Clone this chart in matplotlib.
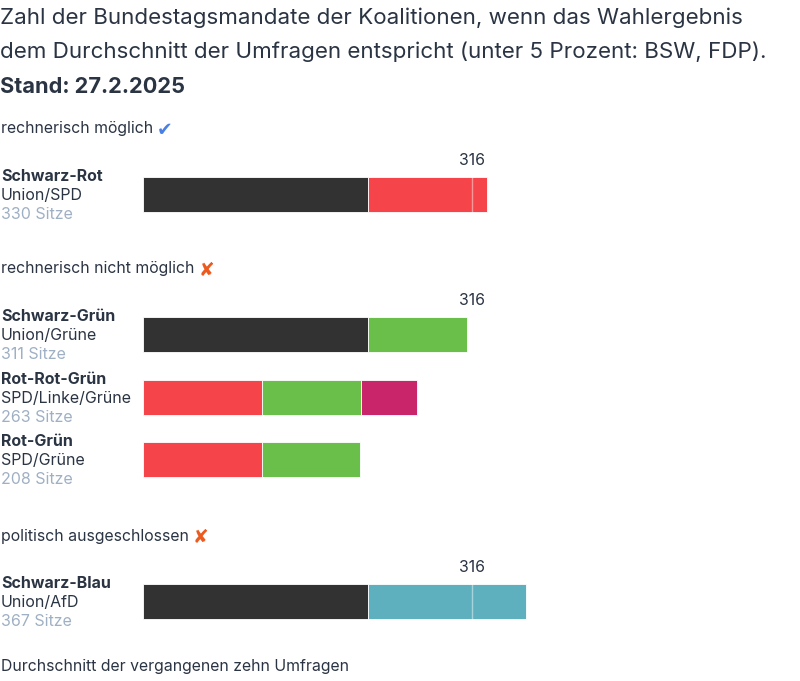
import matplotlib
matplotlib.use("Agg")
import matplotlib.pyplot as plt

plt.rcParams['font.family'] = ['Inter', 'DejaVu Sans']

# Data
coalitions = ["Schwarz-Rot", "Schwarz-Grün", "Rot-Rot-Grün", "Rot-Grün", "Schwarz-Blau"]
parties_label = ["Union/SPD", "Union/Grüne", "SPD/Linke/Grüne", "SPD/Grüne", "Union/AfD"]
totals = [330, 311, 263, 208, 367]
segments = [
    [("Union", 216), ("SPD", 114)],
    [("Union", 216), ("Grüne", 95)],
    [("SPD", 114), ("Grüne", 95), ("Linke", 54)],
    [("SPD", 114), ("Grüne", 94)],
    [("Union", 216), ("AfD", 151)],
]
majority = 316
show_majority = [True, True, False, False, True]
groups = ["rechnerisch möglich", "rechnerisch nicht möglich", "politisch ausgeschlossen"]

colors = {"Union": "#323232", "SPD": "#f5454a", "Grüne": "#6abf4b",
          "Linke": "#c8256a", "AfD": "#5fb0bf"}

W, H = 800, 681
fig = plt.figure(figsize=(W / 100, H / 100), dpi=100)
ax = fig.add_axes([0, 0, 1, 1])
scale = 1.0424
x0 = 143
ax.set_xlim(-x0 / scale, (W - x0) / scale)
ax.set_ylim(H, 0)
ax.axis("off")

def px(xp):
    return (xp - x0) / scale

txt = "#2a3443"
ax.text(px(0), 18, "Zahl der Bundestagsmandate der Koalitionen, wenn das Wahlergebnis",
        fontsize=16.1, color=txt, va="center", ha="left")
ax.text(px(0), 52, "dem Durchschnitt der Umfragen entspricht (unter 5 Prozent: BSW, FDP).",
        fontsize=16.1, color=txt, va="center", ha="left")
ax.text(px(0), 87, "Stand: 27.2.2025", fontsize=15.7, color=txt, va="center", ha="left",
        fontweight="bold")

group_y = [129, 269, 536]
group_marks = [("✔", "#4a80e6"), ("✘", "#ec5a1e"), ("✘", "#ec5a1e")]
for g, gy, (m, mc) in zip(groups, group_y, group_marks):
    t = ax.text(px(1), gy, g, fontsize=11.4, color=txt, va="center", ha="left")
    fig.canvas.draw()
    bb = t.get_window_extent()
    ax.text(px(bb.x1 + 4), gy + 1, m, fontsize=13.5, color=mc, va="center", ha="left",
            family=["DejaVu Sans"], fontweight="bold")

bar_y = [194.5, 334.5, 397.5, 459.5, 601.5]
bar_h = 35
for i, (name, plabel, tot, segs, yc) in enumerate(zip(coalitions, parties_label, totals, segments, bar_y)):
    left = 0
    for party, val in segs:
        ax.barh(yc, val, left=left, height=bar_h, color=colors[party],
                edgecolor="white", linewidth=0.6)
        left += val
    if show_majority[i]:
        ax.text(majority, yc - 34, str(majority), fontsize=11.4, color=txt,
                ha="center", va="center")
        if left > majority:
            ax.plot([majority, majority], [yc - bar_h / 2, yc + bar_h / 2],
                    color="white", alpha=0.45, linewidth=1)
    ax.text(px(1), yc - 18, name, fontsize=11.5, color=txt, fontweight="bold",
            va="center", ha="left")
    ax.text(px(1), yc + 1, plabel, fontsize=11.5, color=txt, va="center", ha="left")
    ax.text(px(1), yc + 20, f"{tot} Sitze", fontsize=11.5, color="#9fb0c4",
            va="center", ha="left")

ax.text(px(1), 667, "Durchschnitt der vergangenen zehn Umfragen", fontsize=11.4,
        color=txt, va="center", ha="left")

fig.savefig("out.png", dpi=100)
